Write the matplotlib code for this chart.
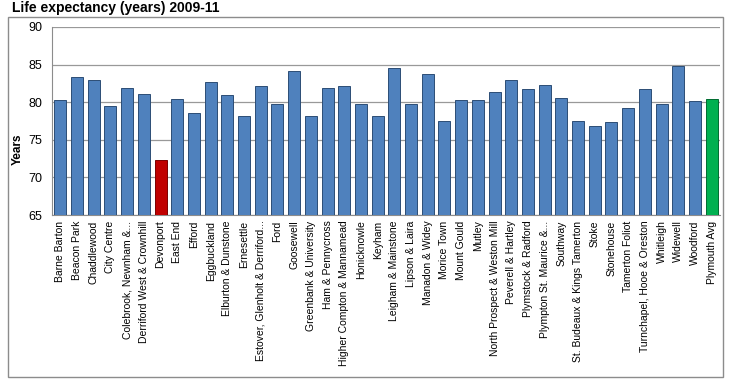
import matplotlib.pyplot as plt
from matplotlib.patches import Rectangle

wards = ["Barne Barton", "Beacon Park", "Chaddlewood", "City Centre",
         "Colebrook, Newnham &...", "Derriford West & Crownhill", "Devonport",
         "East End", "Efford", "Eggbuckland", "Elburton & Dunstone", "Ernesettle",
         "Estover, Glenholt & Derriford...", "Ford", "Goosewell",
         "Greenbank & University", "Ham & Pennycross", "Higher Compton & Mannamead",
         "Honicknowle", "Keyham", "Leigham & Mainstone", "Lipson & Laira",
         "Manadon & Widey", "Morice Town", "Mount Gould", "Mutley",
         "North Prospect & Weston Mill", "Peverell & Hartley", "Plymstock & Radford",
         "Plympton St. Maurice &...", "Southway", "St. Budeaux & Kings Tamerton",
         "Stoke", "Stonehouse", "Tamerton Foliot", "Turnchapel, Hooe & Oreston",
         "Whitleigh", "Widewell", "Woodford", "Plymouth Avg"]
life_exp = [80.3, 83.3, 82.9, 79.5, 81.9, 81.1, 72.3, 80.4, 78.5, 82.7,
            80.9, 78.1, 82.1, 79.8, 84.2, 78.1, 81.9, 82.2, 79.7, 78.2,
            84.6, 79.8, 83.7, 77.5, 80.3, 80.3, 81.4, 83.0, 81.8, 82.3,
            80.5, 77.5, 76.8, 77.4, 79.2, 81.8, 79.7, 84.8, 80.2, 80.4]
highlight_low = "Devonport"
highlight_avg = "Plymouth Avg"

colors = []
edges = []
for w in wards:
    if w == highlight_low:
        colors.append("#C00000")
        edges.append("#7a0000")
    elif w == highlight_avg:
        colors.append("#00B050")
        edges.append("#006b30")
    else:
        colors.append("#4F81BD")
        edges.append("#2c4d75")

plt.rcParams['font.family'] = ['Liberation Sans', 'DejaVu Sans']

fig = plt.figure(figsize=(7.41, 3.91), dpi=100)
fig.patches.append(Rectangle((8 / 741, 1 - 377 / 391), 715 / 741, 360 / 391,
                             transform=fig.transFigure, fill=False,
                             edgecolor="#8c8c8c", linewidth=1))
ax = fig.add_axes([52 / 741, 1 - 215 / 391, 668 / 741, 188 / 391])

x = list(range(len(wards)))
ax.bar(x, [v - 65 for v in life_exp], bottom=65, width=0.72, color=colors,
       edgecolor=edges, linewidth=0.7, zorder=3)

ax.set_ylim(65, 90)
ax.set_xlim(-0.5, len(wards) - 0.5)
ax.set_yticks([65, 70, 75, 80, 85, 90])
ax.tick_params(axis='y', length=0, labelsize=9, pad=7)
ax.tick_params(axis='x', length=0, pad=4)
ax.set_xticks(x)
ax.set_xticklabels(wards, rotation=90, fontsize=7.5)
ax.yaxis.grid(True, color="#999999", linewidth=0.9, zorder=0)
for s in ["top", "right"]:
    ax.spines[s].set_visible(False)
for s in ["left", "bottom"]:
    ax.spines[s].set_color("#8c8c8c")

ax.set_ylabel("Years", fontsize=8.5, fontweight="bold")
ax.yaxis.set_label_coords(-0.043, 0.35)
fig.text(12 / 741, 1 - 8 / 391, "Life expectancy (years) 2009-11", fontsize=10,
         fontweight="bold", va="center", ha="left")

fig.savefig("out.png", dpi=100)
